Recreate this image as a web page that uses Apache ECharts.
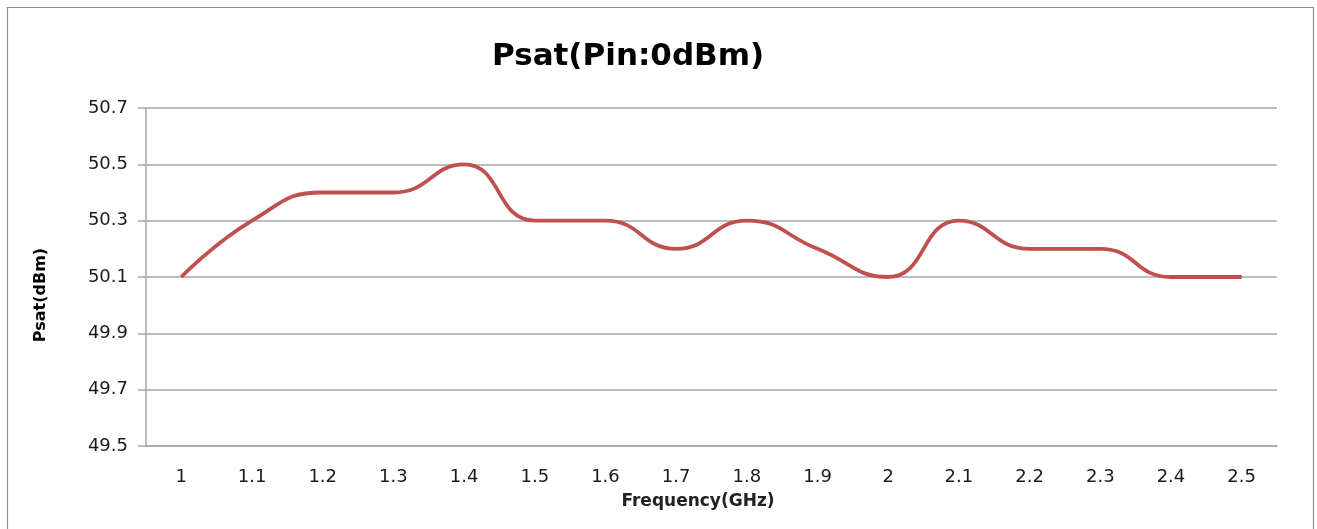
<!DOCTYPE html>
<html>
<head>
<meta charset="utf-8">
<script src="https://cdn.jsdelivr.net/npm/echarts@6/dist/echarts.min.js"></script>
<style>html,body{margin:0;padding:0;background:#fff;}#c{width:1317px;height:529px;}</style>
</head>
<body>
<div id="c"></div>
<script>
const categories = ['1','1.1','1.2','1.3','1.4','1.5','1.6','1.7','1.8','1.9','2','2.1','2.2','2.3','2.4','2.5'];
const psat = [50.1,50.3,50.4,50.4,50.5,50.3,50.3,50.2,50.3,50.2,50.1,50.3,50.2,50.2,50.1,50.1];
const yMin = 49.5, yMax = 50.7, yStep = 0.2;

const FONT = '"DejaVu Sans", sans-serif';
const chart = echarts.init(document.getElementById('c'), null, {renderer:'canvas'});
chart.setOption({
  animation: false,
  backgroundColor: '#fff',
  graphic: [
    {
      type: 'rect', shape: {x: 7.5, y: 7.5, width: 1306, height: 530},
      style: {fill: 'none', stroke: '#8c8c8c', lineWidth: 1.2}, silent: true, z: -1
    },
    {
      type: 'text', x: 41, y: 295, rotation: Math.PI / 2, silent: true,
      style: {text: 'Psat(dBm)', font: 'bold 16px ' + FONT, fill: '#000', align: 'center', verticalAlign: 'middle'}
    },
    {
      type: 'text', x: 698, y: 502, silent: true,
      style: {text: 'Frequency(GHz)', font: 'bold 17px ' + FONT, fill: '#222', align: 'center', verticalAlign: 'middle'}
    }
  ],
  title: {
    text: 'Psat(Pin:0dBm)', left: 487, top: 36,
    textStyle: {fontFamily: FONT, fontWeight: 'bold', fontSize: 31, color: '#000'}
  },
  grid: {left: 146, right: 40, top: 108, bottom: 83, containLabel: false},
  xAxis: {
    type: 'category', data: categories, boundaryGap: true,
    axisLine: {show: true, lineStyle: {color: '#a6a6a6', width: 1.5}},
    axisTick: {show: false},
    axisLabel: {fontFamily: FONT, fontSize: 18, color: '#1a1a1a', margin: 22},
    splitLine: {show: false}
  },
  yAxis: {
    type: 'value', min: yMin, max: yMax, interval: yStep,
    axisLine: {show: true, lineStyle: {color: '#a6a6a6', width: 1.5}},
    axisTick: {show: true, length: 8, inside: false, lineStyle: {color: '#a6a6a6', width: 1.5}},
    axisLabel: {fontFamily: FONT, fontSize: 18, color: '#1a1a1a', margin: 18, formatter: v => v.toFixed(1)},
    splitLine: {show: true, lineStyle: {color: '#a6a6a6', width: 1.5}}
  },
  series: [{
    type: 'line', data: psat, smooth: 0.5, showSymbol: false,
    lineStyle: {color: '#c0504d', width: 3.8}
  }]
});
</script>
</body>
</html>
